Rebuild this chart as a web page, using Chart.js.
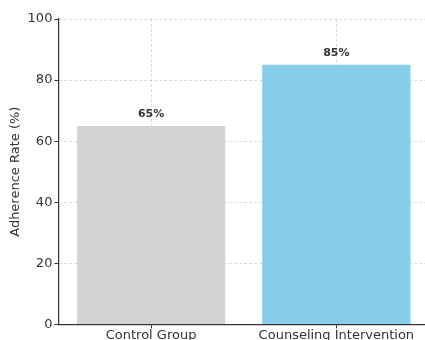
<!DOCTYPE html>
<html><head><meta charset="utf-8">
<script src="https://cdn.jsdelivr.net/npm/chart.js@4/dist/chart.umd.min.js"></script>
<style>html,body{margin:0;padding:0;overflow:hidden;background:#fff;width:425px;height:340px}canvas{display:block}</style>
</head><body>
<canvas id="c" width="429" height="342"></canvas>
<script>
const categories = ["Control Group", "Counseling Intervention"];
const adherence = [65, 85];
const barColors = ["#d3d3d3", "#87ceeb"];
const yTicks = [0, 20, 40, 60, 80, 100];

const labelPlugin = {
  id: 'valLabels',
  afterDatasetsDraw(chart) {
    const ctx = chart.ctx;
    const meta = chart.getDatasetMeta(0);
    ctx.save();
    ctx.font = 'bold 11px "DejaVu Sans"';
    ctx.fillStyle = '#333';
    ctx.textAlign = 'center';
    ctx.textBaseline = 'bottom';
    meta.data.forEach((bar, i) => {
      ctx.fillText(adherence[i] + '%', bar.x, bar.y - 6);
    });
    ctx.restore();
  }
};

new Chart(document.getElementById('c'), {
  type: 'bar',
  data: {
    labels: categories,
    datasets: [{ data: adherence, backgroundColor: barColors, borderWidth: 0, barPercentage: 0.8, categoryPercentage: 1.0 }]
  },
  options: {
    responsive: false,
    animation: false,
    layout: { padding: { top: 19, left: 8, right: 0, bottom: 0 } },
    plugins: { legend: { display: false }, tooltip: { enabled: false } },
    scales: {
      x: {
        z: 1,
        offset: true,
        grid: { offset: false, color: 'rgba(0,0,0,0.14)', lineWidth: 1, tickColor: '#333', tickLength: 4, drawTicks: true },
        border: { display: true, color: '#333', width: 1.2, dash: [3, 2] },
        ticks: { color: '#333', font: { family: 'DejaVu Sans', size: 13 }, padding: -1, maxRotation: 0 }
      },
      y: {
        z: 1,
        min: 0, max: 100,
        afterBuildTicks(scale) { scale.ticks = yTicks.map(v => ({ value: v })); },
        grid: { color: 'rgba(0,0,0,0.14)', lineWidth: 1, tickColor: '#333', tickLength: 4 },
        border: { display: true, color: '#333', width: 1.2, dash: [3, 2] },
        ticks: { color: '#333', font: { family: 'DejaVu Sans', size: 13 }, padding: 2 },
        title: { display: true, text: 'Adherence Rate (%)', color: '#333', font: { family: 'DejaVu Sans', size: 13 }, padding: { top: 0, bottom: 2 } }
      }
    }
  },
  plugins: [labelPlugin]
});
</script>
</body></html>
